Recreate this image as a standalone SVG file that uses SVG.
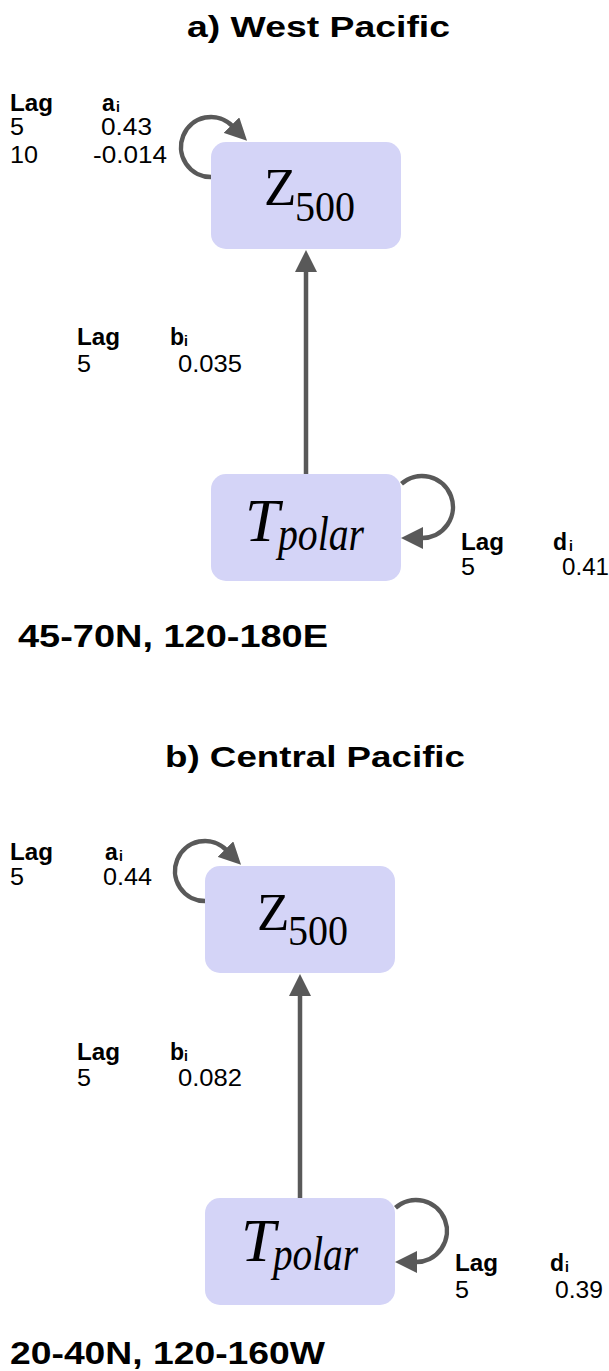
<svg xmlns="http://www.w3.org/2000/svg" width="609" height="1371" viewBox="0 0 609 1371">
<style>
.bg{fill:#ffffff}
.box{fill:#d4d4f7}
.ttl{font-family:"Liberation Sans",Arial,Helvetica,sans-serif;font-weight:bold;font-size:30px;fill:#000}
.reg{font-family:"Liberation Sans",Arial,Helvetica,sans-serif;font-weight:bold;font-size:32px;fill:#000}
.hd{font-family:"Liberation Sans",Arial,Helvetica,sans-serif;font-weight:bold;font-size:23px;fill:#000}
.sub{font-size:14px}
.num{font-family:"Liberation Sans",Arial,Helvetica,sans-serif;font-size:23px;fill:#000}
.math{font-family:"Liberation Serif","Times New Roman",serif;fill:#000}
.it{font-style:italic}
.con{fill:none;stroke:#595959;stroke-width:4.5}
</style>
<defs>
<marker id="ah" markerUnits="userSpaceOnUse" markerWidth="22" markerHeight="22" viewBox="0 0 22 22" refX="1" refY="11" orient="auto">
<path d="M0,0 L22,11 L0,22 z" fill="#595959"/>
</marker>
</defs>
<rect class="bg" x="0" y="0" width="609" height="1371"/>

<g id="title-a"><text class="ttl" x="187" y="37" textLength="263" lengthAdjust="spacingAndGlyphs">a) West Pacific</text></g>

<g id="node-z500-a">
<rect class="box" x="211" y="142" width="190" height="107" rx="15"/>
<text class="math" x="264" y="205" font-size="53">Z</text>
<text class="math" x="295" y="221" font-size="43" textLength="60" lengthAdjust="spacingAndGlyphs">500</text>
</g>
<g id="node-tpolar-a">
<rect class="box" x="211" y="474" width="190" height="107" rx="15"/>
<text class="math it" x="245" y="541" font-size="62">T</text>
<text class="math it" x="278" y="550" font-size="48" textLength="86" lengthAdjust="spacingAndGlyphs">polar</text>
</g>

<g id="labels-a">
<text class="hd" x="10" y="111" textLength="43" lengthAdjust="spacingAndGlyphs">Lag</text>
<text class="hd" x="102" y="111">a<tspan class="sub" x="116" y="112">i</tspan></text>
<text class="num" x="10" y="135" textLength="14" lengthAdjust="spacingAndGlyphs">5</text>
<text class="num" x="101" y="135" textLength="51" lengthAdjust="spacingAndGlyphs">0.43</text>
<text class="num" x="10" y="163" textLength="28" lengthAdjust="spacingAndGlyphs">10</text>
<text class="num" x="93" y="163" textLength="74" lengthAdjust="spacingAndGlyphs">-0.014</text>

<text class="hd" x="77" y="345" textLength="43" lengthAdjust="spacingAndGlyphs">Lag</text>
<text class="hd" x="170" y="345">b<tspan class="sub" x="184" y="346">i</tspan></text>
<text class="num" x="77" y="372" textLength="14" lengthAdjust="spacingAndGlyphs">5</text>
<text class="num" x="178" y="372" textLength="64" lengthAdjust="spacingAndGlyphs">0.035</text>

<text class="hd" x="461" y="550" textLength="43" lengthAdjust="spacingAndGlyphs">Lag</text>
<text class="hd" x="553" y="550">d<tspan class="sub" x="569" y="551">i</tspan></text>
<text class="num" x="461" y="575" textLength="14" lengthAdjust="spacingAndGlyphs">5</text>
<text class="num" x="562" y="575" textLength="47" lengthAdjust="spacingAndGlyphs">0.41</text>
</g>
<g id="region-a"><text class="reg" x="18" y="647" textLength="310" lengthAdjust="spacingAndGlyphs">45-70N, 120-180E</text></g>

<g id="title-b"><text class="ttl" x="165" y="767" textLength="300" lengthAdjust="spacingAndGlyphs">b) Central Pacific</text></g>

<g id="node-z500-b">
<rect class="box" x="205" y="866" width="190" height="107" rx="15"/>
<text class="math" x="257" y="930" font-size="53">Z</text>
<text class="math" x="288" y="945" font-size="43" textLength="60" lengthAdjust="spacingAndGlyphs">500</text>
</g>
<g id="node-tpolar-b">
<rect class="box" x="205" y="1198" width="190" height="107" rx="15"/>
<text class="math it" x="241" y="1261" font-size="62">T</text>
<text class="math it" x="273" y="1270" font-size="48" textLength="85" lengthAdjust="spacingAndGlyphs">polar</text>
</g>

<g id="labels-b">
<text class="hd" x="10" y="860" textLength="43" lengthAdjust="spacingAndGlyphs">Lag</text>
<text class="hd" x="105" y="860">a<tspan class="sub" x="119" y="861">i</tspan></text>
<text class="num" x="10" y="885" textLength="14" lengthAdjust="spacingAndGlyphs">5</text>
<text class="num" x="103" y="885" textLength="49" lengthAdjust="spacingAndGlyphs">0.44</text>

<text class="hd" x="77" y="1060" textLength="43" lengthAdjust="spacingAndGlyphs">Lag</text>
<text class="hd" x="170" y="1060">b<tspan class="sub" x="184" y="1061">i</tspan></text>
<text class="num" x="77" y="1086" textLength="14" lengthAdjust="spacingAndGlyphs">5</text>
<text class="num" x="178" y="1086" textLength="64" lengthAdjust="spacingAndGlyphs">0.082</text>

<text class="hd" x="455" y="1271" textLength="43" lengthAdjust="spacingAndGlyphs">Lag</text>
<text class="hd" x="550" y="1271">d<tspan class="sub" x="565" y="1272">i</tspan></text>
<text class="num" x="455" y="1298" textLength="14" lengthAdjust="spacingAndGlyphs">5</text>
<text class="num" x="555" y="1298" textLength="48" lengthAdjust="spacingAndGlyphs">0.39</text>
</g>
<g id="region-b"><text class="reg" x="10" y="1364" textLength="315" lengthAdjust="spacingAndGlyphs">20-40N, 120-160W</text></g>

<g id="connectors">
<path class="con" d="M306,474 L306,271" marker-end="url(#ah)"/>
<path class="con" d="M211,177 A30,30 0 1 1 232.2,125.8" marker-end="url(#ah)"/>
<path class="con" d="M401.5,483.7 A31,31 0 1 1 422,538" marker-end="url(#ah)"/>
<path class="con" d="M300,1198 L300,995" marker-end="url(#ah)"/>
<path class="con" d="M205,901 A30,30 0 1 1 226.2,849.8" marker-end="url(#ah)"/>
<path class="con" d="M395.5,1207.7 A31,31 0 1 1 416,1262" marker-end="url(#ah)"/>
</g>
</svg>
